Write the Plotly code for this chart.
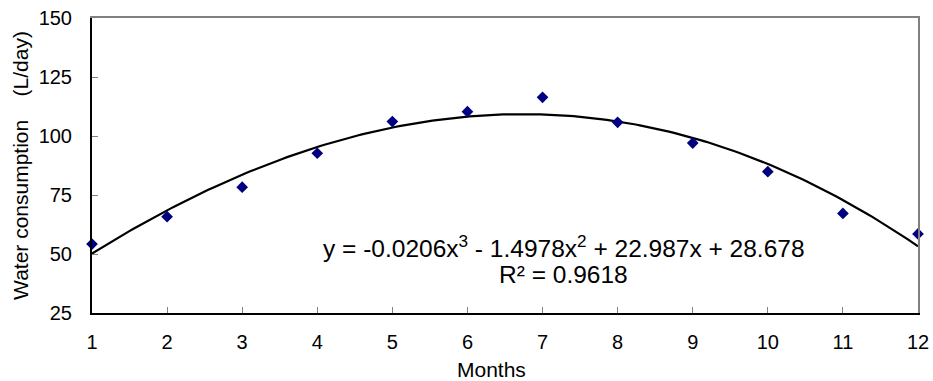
import numpy as np
import plotly.graph_objects as go

months = [1, 2, 3, 4, 5, 6, 7, 8, 9, 10, 11, 12]
consumption = [54.2, 65.8, 78.3, 92.7, 106.1, 110.3, 116.4, 105.8, 97.0, 84.9, 67.2, 58.5]
# cubic trendline coefficients shown on the chart (highest power first)
trend_coefs = [-0.0206, -1.4978, 22.987, 28.678]
r_squared = "0.9618"
x_ticks = months
y_ticks = [25, 50, 75, 100, 125, 150]

FONT = "Arial, 'Liberation Sans', sans-serif"

xs = np.linspace(min(months), max(months), 200)
ys = np.polyval(trend_coefs, xs)

fig = go.Figure()
fig.add_trace(go.Scatter(x=xs, y=ys, mode="lines",
                         line=dict(color="black", width=2.2), hoverinfo="skip"))
fig.add_trace(go.Scatter(x=months, y=consumption, mode="markers", cliponaxis=False,
                         marker=dict(symbol="diamond", size=9, color="#000080")))

eq_line1 = "y = -0.0206x<sup>3</sup> - 1.4978x<sup>2</sup> + 22.987x + 28.678"
eq_line2 = "R² = " + r_squared

fig.update_layout(
    width=933, height=381,
    margin=dict(l=92, r=15, t=18, b=68),
    paper_bgcolor="white", plot_bgcolor="white",
    showlegend=False,
    font=dict(family=FONT, color="black", size=20),
    xaxis=dict(range=[1, 12], tickvals=x_ticks, ticks="inside", ticklen=6,
               tickcolor="#808080", showgrid=False, zeroline=False,
               showline=True, linecolor="black", linewidth=2, automargin=False,
               tickfont=dict(size=20), ticklabelstandoff=10,
               ticklabeloverflow="allow"),
    yaxis=dict(range=[25, 150], tickvals=y_ticks, ticks="inside", ticklen=6,
               tickcolor="#808080", showgrid=False, zeroline=False,
               showline=True, linecolor="black", linewidth=2, automargin=False,
               tickfont=dict(size=20), ticklabelstandoff=14,
               ticklabeloverflow="allow",
               title=dict(text="Water consumption&nbsp;&nbsp;&nbsp;&nbsp;(L/day)",
                          font=dict(size=21), standoff=4)),
    xaxis2=dict(range=[1, 12], overlaying="x", side="top", showline=True,
                linecolor="#808080", linewidth=2, showticklabels=False,
                ticks="", showgrid=False, zeroline=False, automargin=False),
    yaxis2=dict(range=[25, 150], overlaying="y", side="right", showline=True,
                linecolor="#808080", linewidth=2, showticklabels=False,
                ticks="", showgrid=False, zeroline=False, automargin=False),
    annotations=[
        dict(text=eq_line1, xref="paper", yref="paper", x=0.571, y=0.225,
             xanchor="center", yanchor="middle", showarrow=False,
             font=dict(size=24.5, family=FONT, color="black")),
        dict(text=eq_line2, xref="paper", yref="paper", x=0.571, y=0.132,
             xanchor="center", yanchor="middle", showarrow=False,
             font=dict(size=24.5, family=FONT, color="black")),
        dict(text="Months", xref="paper", yref="paper", x=0.484, y=-0.19,
             xanchor="center", yanchor="middle", showarrow=False,
             font=dict(size=21, family=FONT, color="black")),
    ],
)
# invisible helper trace so the top/right frame axes are drawn
fig.add_trace(go.Scatter(x=[None], y=[None], xaxis="x2", yaxis="y2",
                         showlegend=False, hoverinfo="skip"))

fig.write_html("out.html", config={"displayModeBar": False},
               post_script="document.body.style.margin='0';document.body.style.overflow='hidden';")
